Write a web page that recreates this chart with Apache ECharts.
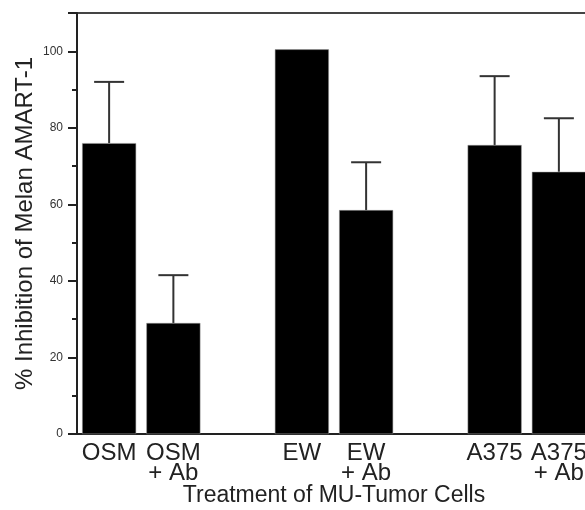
<!DOCTYPE html>
<html>
<head>
  <meta charset="UTF-8">
  <title>Inhibition of Melan AMART-1</title>
  <script src="https://cdn.jsdelivr.net/npm/echarts@6/dist/echarts.min.js"></script>
  <style>body{margin:0;background:#fff}</style>
</head>
<body>
  <div id="main" style="width:585px;height:510px"></div>

  <script>
  // treatment groups (empty slots are the gaps between cell lines)
  const categories = ['OSM', 'OSM\n+ Ab', '', 'EW', 'EW\n+ Ab', '', 'A375', 'A375\n+ Ab'];
  const inhibition = [76, 29, null, 100.5, 58.5, null, 75.5, 68.5];
  const errUpper   = [92, 41.5, null, null, 71, null, 93.5, 82.5];
  const yTicks = [0, 20, 40, 60, 80, 100];

  const font = 'Liberation Sans, Arial, Helvetica, sans-serif';
  const errData = [];
  inhibition.forEach((v, i) => {
    if (v != null && errUpper[i] != null) errData.push([i, v, errUpper[i]]);
  });

  const chart = echarts.init(document.getElementById('main'));
  chart.setOption({
    animation: false,
    grid: {
      left: 77, right: -6, top: 13, bottom: 76,
      outerBoundsMode: 'none', containLabel: false,
      show: true, borderColor: '#444', borderWidth: 2
    },
    xAxis: {
      type: 'category',
      data: categories,
      name: 'Treatment of MU-Tumor Cells',
      nameLocation: 'middle',
      nameGap: 50,
      nameMoveOverlap: false,
      nameTextStyle: {fontFamily: font, fontSize: 23, color: '#222'},
      axisLine: {lineStyle: {color: '#222', width: 2}},
      axisTick: {length: 7, lineStyle: {color: '#222', width: 2}},
      axisLabel: {fontFamily: font, fontSize: 24, color: '#222', lineHeight: 20, margin: 9, interval: 0}
    },
    yAxis: {
      type: 'value',
      min: 0, max: 110, interval: 20,
      name: '% Inhibition of Melan AMART-1',
      nameLocation: 'middle',
      nameGap: 40,
      nameMoveOverlap: false,
      nameTextStyle: {fontFamily: font, fontSize: 24, color: '#222'},
      axisLine: {show: true, lineStyle: {color: '#222', width: 2}},
      axisTick: {show: true, length: 9, lineStyle: {color: '#222', width: 2}},
      minorTick: {show: true, splitNumber: 2, length: 5, lineStyle: {color: '#222', width: 2}},
      splitLine: {show: false},
      axisLabel: {
        fontFamily: font, fontSize: 12, color: '#333', margin: 14,
        formatter: v => yTicks.indexOf(v) >= 0 ? String(v) : ''
      }
    },
    series: [
      {
        type: 'bar',
        data: inhibition,
        barWidth: 54,
        itemStyle: {color: '#000', borderColor: '#999', borderWidth: 0.5}
      },
      {
        type: 'custom',
        data: errData,
        z: 1,
        renderItem: (params, api) => {
          const base = api.coord([api.value(0), api.value(1)]);
          const top = api.coord([api.value(0), api.value(2)]);
          const style = {stroke: '#333', lineWidth: 2};
          return {
            type: 'group',
            children: [
              {type: 'line', shape: {x1: base[0], y1: base[1], x2: top[0], y2: top[1]}, style: style},
              {type: 'line', shape: {x1: top[0] - 15, y1: top[1], x2: top[0] + 15, y2: top[1]}, style: style}
            ]
          };
        }
      }
    ]
  });
  </script>
</body>
</html>
